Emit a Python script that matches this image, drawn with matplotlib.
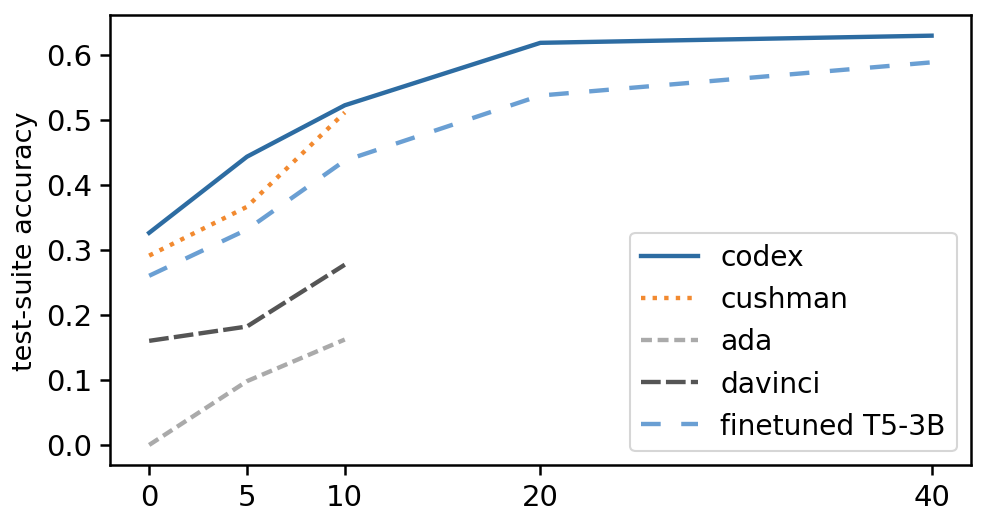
import numpy as np
import matplotlib
matplotlib.use("Agg")
import matplotlib.pyplot as plt

shots = [0, 5, 10, 20, 40]
codex = [0.326, 0.443, 0.522, 0.618, 0.629]
cushman = [0.291, 0.366, 0.511]
ada = [0.0, 0.098, 0.162]
davinci = [0.160, 0.182, 0.277]
t5 = [0.260, 0.331, 0.437, 0.537, 0.588]

fig, ax = plt.subplots(figsize=(6.55, 3.49), dpi=150)
lw = 2.1
ax.plot(shots, codex, color="#2d6ca2", lw=lw, label="codex")
ax.plot(shots[:3], cushman, color="#f28a30", lw=lw, ls=":", label="cushman")
ax.plot(shots[:3], ada, color="#aaaaaa", lw=lw, ls=(0, (2.5, 1.3)), label="ada")
ax.plot(shots[:3], davinci, color="#555555", lw=lw, ls=(0, (4.5, 1.2)), label="davinci")
ax.plot(shots, t5, color="#6a9fd3", lw=lw, ls=(0, (4.5, 4.7)), label="finetuned T5-3B")

ax.set_xticks(shots)
ax.set_yticks(np.arange(0, 0.61, 0.1))
ax.tick_params(labelsize=14, width=1.2, length=5)
for s in ax.spines.values():
    s.set_linewidth(1.2)
ax.set_ylabel("test-suite accuracy", fontsize=13)
ax.legend(loc="lower right", fontsize=13.5)
plt.subplots_adjust(left=0.112, right=0.988, top=0.97, bottom=0.11)
plt.savefig("out.png")
